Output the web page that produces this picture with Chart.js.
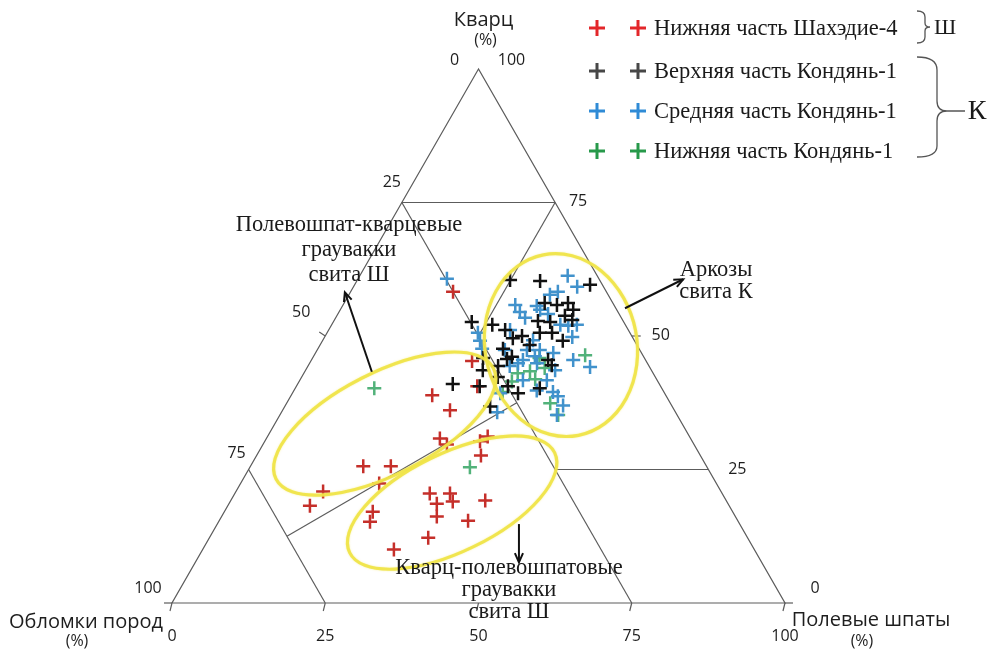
<!DOCTYPE html>
<html>
<head>
<meta charset="utf-8">
<script src="https://cdn.jsdelivr.net/npm/chart.js@4/dist/chart.umd.min.js"></script>
<style>
  html, body { margin: 0; padding: 0; background: #ffffff; }
  canvas { display: block; }
</style>
</head>
<body>
<canvas id="qfl" width="988" height="652"></canvas>
<script>
// Sample compositions as [Q, F, L] percentages (quartz, feldspar, rock fragments)
const shakhedie4Lower = [
  [58.3,16.7,25.0],[45.3,26.3,28.4],[40.6,29.5,29.9],[38.9,23.0,38.1],[36.1,27.3,36.6],
  [30.8,28.3,40.9],[29.7,30.0,40.3],[30.3,35.1,34.6],[31.2,35.9,32.9],[27.6,36.6,35.8],
  [25.6,18.4,56.0],[25.6,22.9,51.5],[22.4,22.6,55.0],[20.9,14.2,64.9],[18.2,13.4,68.4],
  [20.5,31.8,47.7],[20.5,35.1,44.4],[18.6,33.9,47.5],[19.0,36.3,44.7],[19.2,41.5,39.3],
  [17.1,24.2,58.7],[15.2,24.7,60.1],[16.2,35.1,48.7],[15.4,40.6,44.0],[12.2,35.7,52.1],
  [10.0,31.2,58.8]
];
const kondyan1Upper = [
  [60.5,24.9,14.6],[60.3,29.9,9.8],[59.6,38.4,2.0],[56.2,32.7,11.1],[55.8,34.9,9.3],
  [56.2,36.5,7.3],[54.9,38.0,7.1],[53.8,37.2,9.0],[52.8,33.3,13.9],[52.6,35.4,12.0],
  [52.6,22.6,24.8],[52.1,26.2,21.7],[49.6,30.8,19.6],[50.0,32.1,17.9],[50.6,34.7,14.7],
  [50.6,36.7,12.7],[49.1,39.2,11.7],[47.6,30.2,22.2],[48.3,34.2,17.5],[45.9,27.8,26.3],
  [45.7,31.8,22.5],[45.5,38.6,15.9],[44.5,39.7,15.8],[43.6,28.9,27.5],[44.4,31.0,24.6],
  [40.6,29.9,29.5],[40.6,34.5,24.9],[39.3,36.8,23.9],[40.2,39.9,19.9],[36.8,33.5,29.7],
  [41.0,25.3,33.7],[51.1,28.8,20.1],[46.1,32.4,21.5],[42.3,32.0,25.7],[53.0,38.8,8.2]
];
const kondyan1Middle = [
  [60.7,14.5,24.8],[61.3,33.9,4.8],[59.2,36.5,4.3],[57.7,32.8,9.5],[58.3,33.8,7.9],
  [55.6,31.7,12.7],[55.8,28.1,16.1],[54.5,29.5,16.0],[53.4,30.9,15.7],[54.9,32.6,12.5],
  [52.1,37.3,10.6],[51.9,38.7,9.4],[49.8,40.4,9.8],[50.6,24.6,24.8],[49.1,25.7,25.2],
  [47.6,26.8,25.6],[51.1,29.6,19.3],[49.2,34.3,16.5],[47.4,34.2,18.4],[46.2,36.1,17.7],
  [45.5,34.5,20.0],[47.4,36.3,16.3],[46.8,38.8,14.4],[44.9,37.1,18.0],[45.5,42.7,11.8],
  [44.2,46.1,9.7],[43.6,40.7,15.7],[41.7,40.3,18.0],[39.5,42.4,18.1],[38.7,43.6,17.7],
  [37.0,45.3,17.7],[35.2,45.2,19.6],[39.3,33.9,26.8],[44.9,34.0,21.1],[44.4,32.9,22.7],
  [41.7,36.4,21.9],[39.8,39.6,20.6],[47.4,30.6,22.0],[35.7,35.2,29.1],[54.1,34.3,11.6],
  [52.1,40.0,7.9]
];
const kondyan1Lower = [
  [40.2,12.9,46.9],[25.4,35.9,38.7],[46.4,44.2,9.4],[37.4,43.0,19.6],[35.2,45.4,19.4],
  [43.0,34.9,22.1],[43.4,36.7,19.9],[41.9,38.3,19.8],[44.0,38.8,17.2],[41.5,34.7,23.8],
  [39.5,34.2,26.3],[45.9,37.0,17.1]
];

const seriesNames = [
  'Нижняя часть Шахэдие-4',
  'Верхняя часть Кондянь-1',
  'Средняя часть Кондянь-1',
  'Нижняя часть Кондянь-1'
];
const tickValues = [0, 25, 50, 75, 100];

// Classification field boundaries, each end given as [Q, F]
const fieldBoundaries = [
  [[75, 0], [75, 25]],
  [[75, 0], [0, 75]],
  [[75, 25], [50, 25]],
  [[25, 0], [0, 25]],
  [[25, 75], [25, 50]],
  [[12.5, 12.5], [37.5, 37.5]]
];

// Outlined groupings: centre [Q, F], semi-axes in percent, tilt in degrees
const groupOutlines = [
  { centre: [48.3, 39.3], axes: [12.4, 15.0], tilt: 11 },
  { centre: [33.6, 17.9], axes: [19.9, 8.3], tilt: 27 },
  { centre: [18.8, 36.3], axes: [18.6, 8.0], tilt: 26 }
];

const SQ3 = Math.sqrt(3) / 2;
function toXY(p) {
  const s = p[0] + p[1] + p[2];
  const q = p[0] / s, f = p[1] / s;
  return { x: 100 * (f + q / 2), y: 100 * SQ3 * q };
}

const SERIF = '"Liberation Serif", "DejaVu Serif", serif';
const SANS = '"Open Sans", "Noto Sans", sans-serif';

function arrow(ctx, x1, y1, x2, y2) {
  ctx.beginPath(); ctx.moveTo(x1, y1); ctx.lineTo(x2, y2); ctx.stroke();
  const a = Math.atan2(y2 - y1, x2 - x1), h = 10, w = 0.42;
  ctx.beginPath();
  ctx.moveTo(x2 - h * Math.cos(a - w), y2 - h * Math.sin(a - w));
  ctx.lineTo(x2, y2);
  ctx.lineTo(x2 - h * Math.cos(a + w), y2 - h * Math.sin(a + w));
  ctx.stroke();
}

function plus(ctx, x, y, r, color, lw) {
  ctx.strokeStyle = color; ctx.lineWidth = lw; ctx.lineCap = 'butt';
  ctx.beginPath();
  ctx.moveTo(x - r, y); ctx.lineTo(x + r, y);
  ctx.moveTo(x, y - r); ctx.lineTo(x, y + r);
  ctx.stroke();
}

// Triangle frame, field lines, tick labels and axis titles
const ternaryFrame = {
  id: 'ternaryFrame',
  beforeDatasetsDraw(chart) {
    const ctx = chart.ctx, sx = chart.scales.x, sy = chart.scales.y;
    const P = (q, f) => {
      const c = toXY([q, f, 100 - q - f]);
      return [sx.getPixelForValue(c.x), sy.getPixelForValue(c.y)];
    };
    const seg = (a, b) => { ctx.beginPath(); ctx.moveTo(a[0], a[1]); ctx.lineTo(b[0], b[1]); ctx.stroke(); };
    ctx.save();
    ctx.strokeStyle = '#5c5c5c';
    ctx.lineWidth = 1.2;
    const top = P(100, 0), left = P(0, 0), right = P(0, 100);
    ctx.beginPath();
    ctx.moveTo(top[0], top[1]); ctx.lineTo(left[0], left[1]); ctx.lineTo(right[0], right[1]); ctx.closePath();
    ctx.stroke();
    fieldBoundaries.forEach(([a, b]) => seg(P(a[0], a[1]), P(b[0], b[1])));

    // short ticks
    tickValues.forEach(v => { const p = P(0, v); seg(p, [p[0] - 2, p[1] + 8]); });
    const l50 = P(50, 0); seg(l50, [l50[0] - 6, l50[1] - 4]);
    const q50 = P(50, 50); seg(q50, [q50[0] + 9, q50[1]]);
    seg(left, [left[0] - 8, left[1]]);
    seg(right, [right[0] + 8, right[1]]);

    ctx.fillStyle = '#1e1e1e';
    ctx.textAlign = 'center';
    ctx.textBaseline = 'middle';
    ctx.font = '16px ' + SANS;
    // feldspar (base)
    tickValues.forEach(v => { const p = P(0, v); ctx.fillText(String(v), p[0], p[1] + 33); });
    // rock fragments (left side)
    const lOff = { 0: [-24, -9], 25: [-10, -20], 50: [-24, -24], 75: [-12, -16], 100: [-24, -15] };
    tickValues.forEach(v => { const p = P(100 - v, 0); ctx.fillText(String(v), p[0] + lOff[v][0], p[1] + lOff[v][1]); });
    // quartz (right side)
    const qOff = { 100: [33, -9], 75: [23, -1], 50: [29, -1], 25: [29, 0], 0: [30, -15] };
    tickValues.forEach(v => { const p = P(v, 100 - v); ctx.fillText(String(v), p[0] + qOff[v][0], p[1] + qOff[v][1]); });

    ctx.font = '20px ' + SANS;
    ctx.fillText('Кварц', top[0] + 5, top[1] - 49);
    ctx.fillText('Обломки пород', left[0] - 86, left[1] + 19);
    ctx.fillText('Полевые шпаты', right[0] + 86, right[1] + 17);
    ctx.font = '16px ' + SANS;
    ctx.fillText('(%)', top[0] + 7, top[1] - 29);
    ctx.fillText('(%)', left[0] - 95, left[1] + 38);
    ctx.fillText('(%)', right[0] + 77, right[1] + 38);
    ctx.restore();
  }
};

// Group outlines, arrows, field names and legend
const overlays = {
  id: 'overlays',
  afterDatasetsDraw(chart) {
    const ctx = chart.ctx, sx = chart.scales.x, sy = chart.scales.y;
    const k = sx.getPixelForValue(1) - sx.getPixelForValue(0);
    const P = (q, f) => {
      const c = toXY([q, f, 100 - q - f]);
      return [sx.getPixelForValue(c.x), sy.getPixelForValue(c.y)];
    };
    const C = (x, y) => [sx.getPixelForValue(x), sy.getPixelForValue(y)];
    ctx.save();
    ctx.strokeStyle = 'rgba(240, 228, 70, 0.92)';
    ctx.lineWidth = 3.2;
    ctx.shadowColor = 'rgba(240, 230, 90, 0.6)';
    ctx.shadowBlur = 2;
    groupOutlines.forEach(g => {
      const c = P(g.centre[0], g.centre[1]);
      ctx.beginPath();
      ctx.ellipse(c[0], c[1], g.axes[0] * k, g.axes[1] * k, -g.tilt * Math.PI / 180, 0, 2 * Math.PI);
      ctx.stroke();
    });
    ctx.restore();

    ctx.save();
    ctx.strokeStyle = '#111';
    ctx.lineWidth = 2;
    let a = C(32.6, 37.5), b = C(28.2, 50.4); arrow(ctx, a[0], a[1], b[0], b[1]);
    a = C(73.9, 47.8); b = C(83.4, 52.5); arrow(ctx, a[0], a[1], b[0], b[1]);
    a = C(56.6, 12.8); b = C(56.6, 6.6); arrow(ctx, a[0], a[1], b[0], b[1]);

    ctx.fillStyle = '#1a1a1a';
    ctx.textAlign = 'center';
    ctx.textBaseline = 'middle';
    ctx.font = '22.5px ' + SERIF;
    ['Полевошпат-кварцевые', 'граувакки', 'свита Ш'].forEach((t, i) => ctx.fillText(t, 349, 225 + 25 * i));
    ['Аркозы', 'свита К'].forEach((t, i) => ctx.fillText(t, 716, 270 + 22 * i));
    ['Кварц-полевошпатовые', 'граувакки', 'свита Ш'].forEach((t, i) => ctx.fillText(t, 509, 568 + 22 * i));

    // legend
    const legendColors = ['#e3262a', '#474747', '#2f8bd6', '#27994a'];
    const rows = [28, 71, 111, 151];
    ctx.textAlign = 'left';
    ctx.font = '22.5px ' + SERIF;
    seriesNames.forEach((name, i) => {
      plus(ctx, 597, rows[i], 8, legendColors[i], 3);
      plus(ctx, 638, rows[i], 8, legendColors[i], 3);
      ctx.fillStyle = '#1a1a1a';
      ctx.fillText(name, 654, rows[i] + 1);
    });
    // braces
    ctx.strokeStyle = '#555';
    ctx.lineWidth = 1.3;
    ctx.beginPath();
    ctx.moveTo(917, 11); ctx.quadraticCurveTo(925, 11, 925, 17); ctx.lineTo(925, 23);
    ctx.quadraticCurveTo(925, 27, 930, 27); ctx.quadraticCurveTo(925, 27, 925, 31);
    ctx.lineTo(925, 37); ctx.quadraticCurveTo(925, 43, 917, 43);
    ctx.stroke();
    ctx.beginPath();
    ctx.moveTo(917, 57); ctx.quadraticCurveTo(937, 57, 937, 70); ctx.lineTo(937, 101);
    ctx.quadraticCurveTo(937, 111, 947, 111); ctx.quadraticCurveTo(937, 111, 937, 121);
    ctx.lineTo(937, 146); ctx.quadraticCurveTo(937, 157, 917, 157);
    ctx.moveTo(947, 111); ctx.lineTo(965, 111);
    ctx.stroke();
    ctx.fillStyle = '#1a1a1a';
    ctx.textAlign = 'center';
    ctx.font = '22px ' + SERIF;
    ctx.fillText('Ш', 945, 28);
    ctx.font = '28px ' + SERIF;
    ctx.fillText('К', 977, 112);
    ctx.restore();
  }
};

const markerStyle = (color, order) => ({
  pointStyle: 'cross', pointRadius: 7, borderColor: color, backgroundColor: color,
  pointBorderWidth: 2.5, borderWidth: 2.5, showLine: false, order
});

new Chart(document.getElementById('qfl'), {
  type: 'scatter',
  data: {
    datasets: [
      Object.assign({ label: seriesNames[0], data: shakhedie4Lower.map(toXY) }, markerStyle('#c52f2a', 2)),
      Object.assign({ label: seriesNames[1], data: kondyan1Upper.map(toXY) }, markerStyle('#111111', 1)),
      Object.assign({ label: seriesNames[2], data: kondyan1Middle.map(toXY) }, markerStyle('#4192cc', 3)),
      Object.assign({ label: seriesNames[3], data: kondyan1Lower.map(toXY) }, markerStyle('#52b27a', 4))
    ]
  },
  options: {
    responsive: false,
    animation: false,
    devicePixelRatio: 1,
    events: [],
    layout: { padding: 0, autoPadding: false },
    plugins: { legend: { display: false }, tooltip: { enabled: false } },
    scales: {
      x: { type: 'linear', display: false, min: -28.06, max: 133.12 },
      y: { type: 'linear', display: false, min: -7.947, max: 97.79 }
    }
  },
  plugins: [ternaryFrame, overlays]
});
</script>
</body>
</html>
